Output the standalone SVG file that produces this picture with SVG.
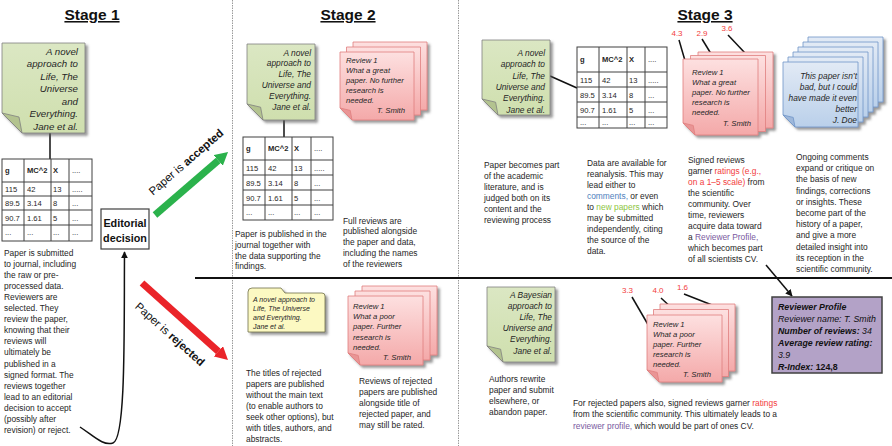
<svg xmlns="http://www.w3.org/2000/svg" width="892" height="446" viewBox="0 0 892 446">
<defs>
<style>
text{font-family:"Liberation Sans",Arial,sans-serif;fill:#262626}
.title{font-size:15.5px;font-weight:bold;text-anchor:middle;text-decoration:underline;fill:#111}
.b{font-size:8.4px}
.ni{font-size:8.4px;font-style:italic;text-anchor:end}
.ri{font-size:7.7px;font-style:italic}
.tb{font-size:7.6px}
.tbh{font-size:7.6px;font-weight:bold}
.rate{font-size:8px;fill:#f23c3c;text-anchor:middle}
.green{fill:url(#gG);stroke:#808080;stroke-width:0.8}
.gfold{fill:#b3c38f;stroke:#808080;stroke-width:0.8}
.pink{fill:url(#gP);stroke:#e07f7f;stroke-width:0.8}
.pfold{fill:#e99595;stroke:#e07f7f;stroke-width:0.8}
.blue{fill:url(#gB);stroke:#6f94c8;stroke-width:0.8}
.bfold{fill:#9db7da;stroke:#6f94c8;stroke-width:0.8}
.tbl rect{fill:#fff;stroke:#404040;stroke-width:1}
.tbl line{stroke:#404040;stroke-width:1}
.ln{stroke:#111;stroke-width:1.5;fill:none}
.red{fill:#f23c3c}
.blu{fill:#4f81bd}
.grn{fill:#8dc63f}
.pur{fill:#7a5aa0}
</style>
<linearGradient id="gG" x1="0" y1="0" x2="0" y2="1"><stop offset="0" stop-color="#dbe7c3"/><stop offset="1" stop-color="#cfdfae"/></linearGradient>
<linearGradient id="gP" x1="0" y1="0" x2="0" y2="1"><stop offset="0" stop-color="#fde0e0"/><stop offset="1" stop-color="#f4a9a9"/></linearGradient>
<linearGradient id="gB" x1="0" y1="0" x2="0" y2="1"><stop offset="0" stop-color="#e2eaf5"/><stop offset="1" stop-color="#bad0ea"/></linearGradient>
<filter id="sh" x="-10%" y="-10%" width="130%" height="130%"><feDropShadow dx="2.5" dy="2.5" stdDeviation="1" flood-color="#555" flood-opacity="0.6"/></filter>
<marker id="ah" viewBox="0 0 10 10" refX="9" refY="5" markerWidth="7" markerHeight="7" markerUnits="userSpaceOnUse" orient="auto"><path d="M0 0 L10 5 L0 10 Z" fill="#111"/></marker>
<marker id="ahG" viewBox="0 -7 13 14" refX="0" refY="0" markerWidth="13" markerHeight="14" markerUnits="userSpaceOnUse" orient="auto"><path d="M0 -7 L13 0 L0 7 Z" fill="#2bb24c"/></marker>
<marker id="ahR" viewBox="0 -7 13 14" refX="0" refY="0" markerWidth="13" markerHeight="14" markerUnits="userSpaceOnUse" orient="auto"><path d="M0 -7 L13 0 L0 7 Z" fill="#ea2429"/></marker>
</defs>
<rect width="892" height="446" fill="#fff"/>

<!-- dividers -->
<g id="dividers">
<line x1="232.5" y1="0" x2="232.5" y2="446" stroke="#9a9a9a" stroke-width="1" stroke-dasharray="1.5 1"/>
<line x1="458.5" y1="0" x2="458.5" y2="446" stroke="#9a9a9a" stroke-width="1" stroke-dasharray="1.5 1"/>
<line x1="195" y1="278" x2="892" y2="278" stroke="#111" stroke-width="2"/>
</g>

<!-- titles -->
<text class="title" x="92" y="20">Stage 1</text>
<text class="title" x="348" y="20">Stage 2</text>
<text class="title" x="705" y="20">Stage 3</text>

<!-- connectors -->
<g id="connectors">
<line class="ln" x1="50" y1="133" x2="50" y2="159"/>
<line class="ln" x1="284" y1="120" x2="284" y2="137"/>
<line class="ln" x1="550" y1="76" x2="577" y2="88"/>
<line x1="155" y1="215" x2="218.2" y2="160.5" stroke="#2bb24c" stroke-width="7" marker-end="url(#ahG)"/>
<line x1="142" y1="283" x2="218.3" y2="351.3" stroke="#ea2429" stroke-width="7" marker-end="url(#ahR)"/>
<path class="ln" d="M80 427 C95 437 103 446 113 443 C126 439 124 330 124.5 252" marker-end="url(#ah)"/>
<line class="ln" x1="679" y1="40" x2="688" y2="71"/>
<line class="ln" x1="702" y1="39" x2="713" y2="57"/>
<line class="ln" x1="728" y1="35" x2="745" y2="53"/>
<line class="ln" x1="632" y1="297" x2="650" y2="328"/>
<line class="ln" x1="661" y1="298" x2="674" y2="310"/>
<line class="ln" x1="684" y1="294" x2="712" y2="305"/>
<line class="ln" x1="766" y1="265" x2="792" y2="296" marker-end="url(#ah)"/>
</g>

<!-- Stage 1 -->
<g id="s1-paper">
<g filter="url(#sh)"><path class="green" d="M2 43 H85 V133 H22 L2 113 Z"/></g>
<path class="gfold" d="M2 113 L19 117 L22 133 Z"/>
<text style="font-size:9.7px;font-style:italic;text-anchor:end"><tspan x="78" y="54.5">A novel</tspan><tspan x="78" y="67">approach to</tspan><tspan x="78" y="79.5">Life, The</tspan><tspan x="78" y="92">Universe</tspan><tspan x="78" y="104.5">and</tspan><tspan x="78" y="117">Everything.</tspan><tspan x="78" y="129.5">Jane et al.</tspan></text>
</g>
<g id="s1-table" class="tbl">
<rect x="2" y="159" width="90" height="82"/>
<line x1="2" y1="182" x2="92" y2="182"/><line x1="2" y1="196" x2="92" y2="196"/><line x1="2" y1="210" x2="92" y2="210"/><line x1="2" y1="225" x2="92" y2="225"/>
<line x1="24" y1="159" x2="24" y2="241"/><line x1="51" y1="159" x2="51" y2="241"/><line x1="69" y1="159" x2="69" y2="241"/>
<text class="tbh" x="5" y="173">g</text><text class="tbh" x="27" y="173">MC^2</text><text class="tbh" x="53" y="173">X</text><text class="tb" x="72" y="173">....</text>
<text class="tb" x="5" y="192">115</text><text class="tb" x="27" y="192">42</text><text class="tb" x="53" y="192">13</text><text class="tb" x="72" y="192">.....</text>
<text class="tb" x="5" y="206">89.5</text><text class="tb" x="27" y="206">3.14</text><text class="tb" x="53" y="206">8</text><text class="tb" x="72" y="206">...</text>
<text class="tb" x="5" y="221">90.7</text><text class="tb" x="27" y="221">1.61</text><text class="tb" x="53" y="221">5</text><text class="tb" x="72" y="221">...</text>
<text class="tb" x="5" y="235">...</text><text class="tb" x="27" y="235">...</text><text class="tb" x="53" y="235">...</text><text class="tb" x="72" y="235">...</text>
</g>
<g id="s1-text">
<text class="b"><tspan x="4" y="255.5">Paper is submitted</tspan><tspan x="4" y="266.6">to journal, including</tspan><tspan x="4" y="277.7">the raw or pre-</tspan><tspan x="4" y="288.8">processed data.</tspan><tspan x="4" y="299.9">Reviewers are</tspan><tspan x="4" y="311">selected. They</tspan><tspan x="4" y="322.1">review the paper,</tspan><tspan x="4" y="333.2">knowing that their</tspan><tspan x="4" y="344.3">reviews will</tspan><tspan x="4" y="355.4">ultimately be</tspan><tspan x="4" y="366.5">published in a</tspan><tspan x="4" y="377.6">signed format. The</tspan><tspan x="4" y="388.7">reviews together</tspan><tspan x="4" y="399.8">lead to an editorial</tspan><tspan x="4" y="410.9">decision to accept</tspan><tspan x="4" y="422">(possibly after</tspan><tspan x="4" y="433.1">revision) or reject.</tspan></text>
</g>
<g id="editorial">
<rect x="101" y="209" width="48" height="40" fill="#fff" stroke="#404040" stroke-width="1.2"/>
<text style="font-size:10.8px;font-weight:bold;text-anchor:middle;fill:#111"><tspan x="125" y="227">Editorial</tspan><tspan x="125" y="242">decision</tspan></text>
</g>
<g id="labels">
<text transform="translate(186 162) rotate(-40.8)" x="0" y="4" style="font-size:11.4px;text-anchor:middle;fill:#111">Paper is <tspan font-weight="bold">accepted</tspan></text>
<text transform="translate(170 334) rotate(41.8)" x="0" y="4" style="font-size:11.4px;text-anchor:middle;fill:#111">Paper is <tspan font-weight="bold">rejected</tspan></text>
</g>

<!-- Stage 2 accepted -->
<g id="s2-paper">
<g filter="url(#sh)"><path class="green" d="M247 44 H315 V120 H263 L247 104 Z"/></g>
<path class="gfold" d="M247 104 L260.6 107.2 L263 120 Z"/>
<text class="ni"><tspan x="311" y="55.5">A novel</tspan><tspan x="311" y="66.3">approach to</tspan><tspan x="311" y="77.1">Life, The</tspan><tspan x="311" y="87.9">Universe and</tspan><tspan x="311" y="98.7">Everything.</tspan><tspan x="311" y="109.5">Jane et al.</tspan></text>
</g>
<g id="s2-reviews">
<g filter="url(#sh)">
<path class="pink" d="M353 42 H427 V110 H365 L353 98 Z"/>
<path class="pink" d="M346.5 47 H420.5 V115 H358.5 L346.5 103 Z"/>
<path class="pink" d="M340 52 H414 V120 H352 L340 108 Z"/>
</g>
<path class="pfold" d="M340 108 L350.2 110.4 L352 120 Z"/>
<text class="ri"><tspan x="346" y="62.5">Review 1</tspan><tspan x="346" y="72.6">What a great</tspan><tspan x="346" y="82.7">paper. No further</tspan><tspan x="346" y="92.8">research is</tspan><tspan x="346" y="102.9">needed.</tspan><tspan x="377" y="113">T. Smith</tspan></text>
</g>
<g id="s2-table" class="tbl">
<rect x="243" y="137" width="90" height="83"/>
<line x1="243" y1="160" x2="333" y2="160"/><line x1="243" y1="175" x2="333" y2="175"/><line x1="243" y1="190" x2="333" y2="190"/><line x1="243" y1="205" x2="333" y2="205"/>
<line x1="265" y1="137" x2="265" y2="220"/><line x1="292" y1="137" x2="292" y2="220"/><line x1="311" y1="137" x2="311" y2="220"/>
<text class="tbh" x="246" y="151">g</text><text class="tbh" x="268" y="151">MC^2</text><text class="tbh" x="294" y="151">X</text><text class="tb" x="314" y="151">....</text>
<text class="tb" x="246" y="171">115</text><text class="tb" x="268" y="171">42</text><text class="tb" x="294" y="171">13</text><text class="tb" x="314" y="171">.....</text>
<text class="tb" x="246" y="186">89.5</text><text class="tb" x="268" y="186">3.14</text><text class="tb" x="294" y="186">8</text><text class="tb" x="314" y="186">...</text>
<text class="tb" x="246" y="201">90.7</text><text class="tb" x="268" y="201">1.61</text><text class="tb" x="294" y="201">5</text><text class="tb" x="314" y="201">...</text>
<text class="tb" x="246" y="215">...</text><text class="tb" x="268" y="215">...</text><text class="tb" x="294" y="215">...</text><text class="tb" x="314" y="215">...</text>
</g>
<g id="s2-text">
<text class="b"><tspan x="235" y="237">Paper is published in the</tspan><tspan x="235" y="247.8">journal together with</tspan><tspan x="235" y="258.6">the data supporting the</tspan><tspan x="235" y="269.4">findings.</tspan></text>
<text class="b"><tspan x="343" y="223.5">Full reviews are</tspan><tspan x="343" y="234.3">published alongside</tspan><tspan x="343" y="245.1">the paper and data,</tspan><tspan x="343" y="255.9">including the names</tspan><tspan x="343" y="266.7">of the reviewers</tspan></text>
</g>

<!-- Stage 2 rejected -->
<g id="s2-folder">
<g filter="url(#sh)"><path d="M248 292 Q248 288 252 288 H281 L285 293 H322 Q325 293 325 296 V332 H248 Z" fill="#fcf9c2" stroke="#6e6e4a" stroke-width="0.8"/></g>
<text style="font-size:7px;font-style:italic"><tspan x="253" y="302">A novel approach to</tspan><tspan x="253" y="311">Life, The Universe</tspan><tspan x="253" y="320">and Everything.</tspan><tspan x="253" y="329">Jane et al.</tspan></text>
</g>
<g id="s2-rej-reviews">
<g filter="url(#sh)">
<path class="pink" d="M362 286 H437 V355 H374 L362 343 Z"/>
<path class="pink" d="M355 291 H430 V360 H367 L355 348 Z"/>
<path class="pink" d="M348 296 H423 V365 H360 L348 353 Z"/>
</g>
<path class="pfold" d="M348 353 L358.2 355.4 L360 365 Z"/>
<text class="ri"><tspan x="353" y="309">Review 1</tspan><tspan x="353" y="319.2">What a poor</tspan><tspan x="353" y="329.4">paper. Further</tspan><tspan x="353" y="339.6">research is</tspan><tspan x="353" y="349.8">needed.</tspan><tspan x="383" y="360">T. Smith</tspan></text>
</g>
<g id="s2-rej-text">
<text class="b"><tspan x="246" y="376">The titles of rejected</tspan><tspan x="246" y="387">papers are published</tspan><tspan x="246" y="398">without the main text</tspan><tspan x="246" y="409">(to enable authors to</tspan><tspan x="246" y="420">seek other options), but</tspan><tspan x="246" y="431">with titles, authors, and</tspan><tspan x="246" y="442">abstracts.</tspan></text>
<text class="b"><tspan x="359" y="384">Reviews of rejected</tspan><tspan x="359" y="395">papers are published</tspan><tspan x="359" y="406">alongside title of</tspan><tspan x="359" y="417">rejected paper, and</tspan><tspan x="359" y="428">may still be rated.</tspan></text>
</g>

<!-- Stage 3 accepted -->
<g id="s3-paper">
<g filter="url(#sh)"><path class="green" d="M482 40 H550 V115 H498 L482 99 Z"/></g>
<path class="gfold" d="M482 99 L495.6 102.2 L498 115 Z"/>
<text class="ni"><tspan x="545" y="56">A novel</tspan><tspan x="545" y="67.3">approach to</tspan><tspan x="545" y="78.6">Life, The</tspan><tspan x="545" y="89.9">Universe and</tspan><tspan x="545" y="101.2">Everything.</tspan><tspan x="545" y="112.5">Jane et al.</tspan></text>
</g>
<g id="s3-table" class="tbl">
<rect x="577" y="47" width="90" height="81"/>
<line x1="577" y1="72" x2="667" y2="72"/><line x1="577" y1="87" x2="667" y2="87"/><line x1="577" y1="102" x2="667" y2="102"/><line x1="577" y1="117" x2="667" y2="117"/>
<line x1="599" y1="47" x2="599" y2="128"/><line x1="627" y1="47" x2="627" y2="128"/><line x1="645" y1="47" x2="645" y2="128"/>
<text class="tbh" x="580" y="62">g</text><text class="tbh" x="602" y="62">MC^2</text><text class="tbh" x="629" y="62">X</text><text class="tb" x="648" y="62">....</text>
<text class="tb" x="580" y="82.5">115</text><text class="tb" x="602" y="82.5">42</text><text class="tb" x="629" y="82.5">13</text><text class="tb" x="648" y="82.5">.....</text>
<text class="tb" x="580" y="97.5">89.5</text><text class="tb" x="602" y="97.5">3.14</text><text class="tb" x="629" y="97.5">8</text><text class="tb" x="648" y="97.5">...</text>
<text class="tb" x="580" y="112.5">90.7</text><text class="tb" x="602" y="112.5">1.61</text><text class="tb" x="629" y="112.5">5</text><text class="tb" x="648" y="112.5">...</text>
<text class="tb" x="580" y="125">...</text><text class="tb" x="602" y="125">...</text><text class="tb" x="629" y="125">...</text><text class="tb" x="648" y="125">...</text>
</g>
<g id="s3-reviews">
<g filter="url(#sh)">
<path class="pink" d="M698 52 H773 V128 H710 L698 116 Z"/>
<path class="pink" d="M690.5 55.5 H765.5 V131.5 H702.5 L690.5 119.5 Z"/>
<path class="pink" d="M683 59 H758 V135 H695 L683 123 Z"/>
</g>
<path class="pfold" d="M683 123 L693.2 125.4 L695 135 Z"/>
<text class="ri"><tspan x="692" y="75">Review 1</tspan><tspan x="692" y="85.1">What a great</tspan><tspan x="692" y="95.2">paper. No further</tspan><tspan x="692" y="105.3">research is</tspan><tspan x="692" y="115.4">needed.</tspan><tspan x="723" y="125.5">T. Smith</tspan></text>
<text class="rate" x="677" y="36">4.3</text>
<text class="rate" x="702" y="36">2.9</text>
<text class="rate" x="727" y="31">3.6</text>
</g>
<g id="s3-comments">
<g filter="url(#sh)">
<path class="blue" d="M808 37 H883 V102 H820 L808 90 Z"/>
<path class="blue" d="M803 42 H878 V107 H815 L803 95 Z"/>
<path class="blue" d="M798 47 H873 V112 H810 L798 100 Z"/>
<path class="blue" d="M793 52 H868 V117 H805 L793 105 Z"/>
<path class="blue" d="M788 57 H863 V122 H800 L788 110 Z"/>
<path class="blue" d="M783 62 H858 V127 H795 L783 115 Z"/>
</g>
<path class="bfold" d="M783 115 L793.2 117.4 L795 127 Z"/>
<text class="ni"><tspan x="857" y="79">This paper isn’t</tspan><tspan x="857" y="90">bad, but I could</tspan><tspan x="857" y="101">have made it even</tspan><tspan x="857" y="112">better</tspan><tspan x="857" y="123">J. Doe</tspan></text>
</g>
<g id="s3-text">
<text class="b"><tspan x="484" y="168">Paper becomes part</tspan><tspan x="484" y="179">of the academic</tspan><tspan x="484" y="190">literature, and is</tspan><tspan x="484" y="201">judged both on its</tspan><tspan x="484" y="212">content and the</tspan><tspan x="484" y="223">reviewing process</tspan></text>
<text class="b"><tspan x="587" y="165.5">Data are available for</tspan><tspan x="587" y="176.5">reanalysis. This may</tspan><tspan x="587" y="187.5">lead either to</tspan><tspan x="587" y="198.5" class="blu">comments,</tspan><tspan> or even</tspan><tspan x="587" y="209.5">to </tspan><tspan class="grn">new papers</tspan><tspan> which</tspan><tspan x="587" y="220.5">may be submitted</tspan><tspan x="587" y="231.5">independently, citing</tspan><tspan x="587" y="242.5">the source of the</tspan><tspan x="587" y="253.5">data.</tspan></text>
<text class="b"><tspan x="688" y="163">Signed reviews</tspan><tspan x="688" y="174">garner </tspan><tspan class="red">ratings (e.g.,</tspan><tspan x="688" y="185" class="red">on a 1–5 scale)</tspan><tspan> from</tspan><tspan x="688" y="196">the scientific</tspan><tspan x="688" y="207">community. Over</tspan><tspan x="688" y="218">time, reviewers</tspan><tspan x="688" y="229">acquire data toward</tspan><tspan x="688" y="240">a </tspan><tspan class="pur">Reviewer Profile,</tspan><tspan x="688" y="251">which becomes part</tspan><tspan x="688" y="262">of all scientists CV.</tspan></text>
<text class="b"><tspan x="796" y="160">Ongoing comments</tspan><tspan x="796" y="171.2">expand or critique on</tspan><tspan x="796" y="182.4">the basis of new</tspan><tspan x="796" y="193.6">findings, corrections</tspan><tspan x="796" y="204.8">or insights. These</tspan><tspan x="796" y="216">become part of the</tspan><tspan x="796" y="227.2">history of a paper,</tspan><tspan x="796" y="238.4">and give a more</tspan><tspan x="796" y="249.6">detailed insight into</tspan><tspan x="796" y="260.8">its reception in the</tspan><tspan x="796" y="272">scientific community.</tspan></text>
</g>

<!-- Stage 3 rejected -->
<g id="s3-rej-paper">
<g filter="url(#sh)"><path class="green" d="M487 287 H555 V362 H503 L487 346 Z"/></g>
<path class="gfold" d="M487 346 L500.6 349.2 L503 362 Z"/>
<text class="ni"><tspan x="552" y="297.5">A Bayesian</tspan><tspan x="552" y="308.7">approach to</tspan><tspan x="552" y="319.9">Life, The</tspan><tspan x="552" y="331.1">Universe and</tspan><tspan x="552" y="342.3">Everything.</tspan><tspan x="552" y="353.5">Jane et al.</tspan></text>
</g>
<g id="s3-rej-reviews">
<g filter="url(#sh)">
<path class="pink" d="M660 304 H735 V371 H672 L660 359 Z"/>
<path class="pink" d="M653.5 309.5 H728.5 V376.5 H665.5 L653.5 364.5 Z"/>
<path class="pink" d="M647 315 H722 V382 H659 L647 370 Z"/>
</g>
<path class="pfold" d="M647 370 L657.2 372.4 L659 382 Z"/>
<text class="ri"><tspan x="653" y="327">Review 1</tspan><tspan x="653" y="337">What a poor</tspan><tspan x="653" y="347">paper. Further</tspan><tspan x="653" y="357">research is</tspan><tspan x="653" y="367">needed.</tspan><tspan x="683" y="377">T. Smith</tspan></text>
<text class="rate" x="627.5" y="293">3.3</text>
<text class="rate" x="658" y="293">4.0</text>
<text class="rate" x="682.5" y="290">1.6</text>
</g>
<g id="s3-rej-text">
<text class="b"><tspan x="489" y="381.5">Authors rewrite</tspan><tspan x="489" y="392.5">paper and submit</tspan><tspan x="489" y="403.5">elsewhere, or</tspan><tspan x="489" y="414.5">abandon paper.</tspan></text>
<text class="b"><tspan x="573" y="406">For rejected papers also, signed reviews garner </tspan><tspan class="red">ratings</tspan><tspan x="573" y="417.3">from the scientific community. This ultimately leads to a</tspan><tspan x="573" y="428.6" class="pur">reviewer profile,</tspan><tspan> which would be part of ones CV.</tspan></text>
</g>
<g id="profile">
<rect x="772" y="297" width="110" height="76" fill="#b3a2c7" stroke="#404040" stroke-width="1.5"/>
<text style="font-size:8.8px;font-style:italic;fill:#111"><tspan x="778" y="309.5" font-weight="bold">Reviewer Profile</tspan><tspan x="778" y="321.8">Reviewer name: T. Smith</tspan><tspan x="778" y="334" font-weight="bold">Number of reviews: </tspan><tspan>34</tspan><tspan x="778" y="346" font-weight="bold">Average review rating:</tspan><tspan x="778" y="357.5">3.9</tspan><tspan x="778" y="370" font-weight="bold">R-Index: </tspan><tspan font-weight="bold" font-style="normal">124,8</tspan></text>
</g>
</svg>
